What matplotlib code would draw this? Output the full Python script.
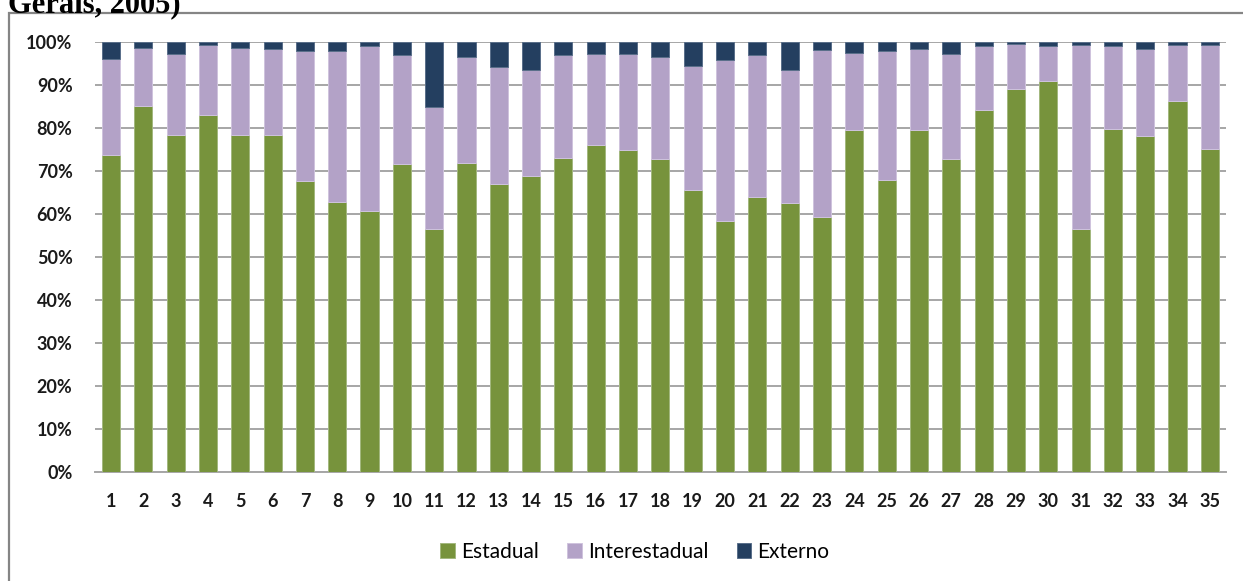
import matplotlib
matplotlib.use("Agg")
import matplotlib.pyplot as plt
from matplotlib.patches import Rectangle
from matplotlib.ticker import FuncFormatter, MultipleLocator

# Share of flows by destination type for each of the 35 regions (percent)
regions = [str(i) for i in range(1, 36)]
estadual = [73.6, 85.2, 78.3, 83.1, 78.3, 78.3, 67.6, 62.8, 60.7, 71.5,
            56.5, 71.8, 67.0, 68.8, 73.0, 76.0, 74.8, 72.7, 65.6, 58.3,
            64.0, 62.5, 59.2, 79.6, 67.9, 79.6, 72.7, 84.1, 89.1, 90.9,
            56.5, 79.8, 78.1, 86.2, 75.1]
# cumulative top of the Interestadual segment (Estadual + Interestadual)
ate_interestadual = [96.0, 98.7, 97.2, 99.3, 98.7, 98.4, 97.8, 97.8, 99.0, 97.0,
                     84.9, 96.6, 94.2, 93.6, 97.0, 97.2, 97.2, 96.6, 94.5, 95.7,
                     97.0, 93.6, 98.1, 97.5, 97.8, 98.4, 97.2, 99.1, 99.6, 99.1,
                     99.3, 99.0, 98.4, 99.3, 99.3]
interestadual = [t - e for t, e in zip(ate_interestadual, estadual)]
externo = [100.0 - t for t in ate_interestadual]

series_names = ["Estadual", "Interestadual", "Externo"]
colors = ["#77933C", "#B3A2C7", "#243F60"]
edges = ["#A3B87F", "#CFC3DD", "#5A6F8A"]

W, H, DPI = 1243, 581, 100
fig = plt.figure(figsize=(W / DPI, H / DPI), dpi=DPI)
fig.patch.set_facecolor("white")

# outer chart frame (runs past the right and bottom edges)
frame = Rectangle((9 / W, -0.1), 1.2, 1 - 13 / H + 0.1, transform=fig.transFigure,
                  fill=False, edgecolor="#858585", linewidth=1.6, zorder=0)
fig.patches.append(frame)

# tail of the caption line continuing from above the chart
fig.text(8 / W, 1 - 12 / H, "Gerais, 2005)", family="Liberation Serif",
         fontweight="bold", fontsize=22, ha="left", va="baseline")

left, right = 94.8 / W, 1226 / W
bottom, top = 1 - 471.7 / H, 1 - 42 / H
ax = fig.add_axes([left, bottom, right - left, top - bottom])

x = list(range(1, 36))
bw = 0.56
ax.bar(x, estadual, bw, color=colors[0], edgecolor=edges[0], linewidth=0.7,
       label=series_names[0], zorder=3)
ax.bar(x, interestadual, bw, bottom=estadual, color=colors[1], edgecolor=edges[1],
       linewidth=0.7, label=series_names[1], zorder=3)
ax.bar(x, externo, bw, bottom=ate_interestadual, color=colors[2], edgecolor=edges[2],
       linewidth=0.7, label=series_names[2], zorder=3)

ax.set_xlim(0.5, 35.5)
ax.set_ylim(0, 100)
ax.yaxis.set_major_locator(MultipleLocator(10))
ax.yaxis.set_major_formatter(FuncFormatter(lambda v, p: f"{int(round(v))}%"))
ax.set_xticks(x)
ax.set_xticklabels(regions)
ax.grid(axis="y", color="#A6A6A6", linewidth=1.4, zorder=0)
ax.set_axisbelow(True)
for s in ["top", "right", "left"]:
    ax.spines[s].set_visible(False)
ax.spines["bottom"].set_color("#A6A6A6")
ax.spines["bottom"].set_linewidth(1.4)
ax.tick_params(axis="both", length=0)
ax.tick_params(axis="y", pad=16)
ax.tick_params(axis="x", pad=15)
for lab in ax.get_xticklabels() + ax.get_yticklabels():
    lab.set_family("Lato")
    lab.set_fontweight("bold")
    lab.set_fontsize(13)
    lab.set_color("#1A1A1A")

leg = fig.legend(loc="center", bbox_to_anchor=(635 / W, 1 - 552 / H), ncol=3,
                 frameon=False, prop={"family": "Lato", "size": 15},
                 handlelength=0.7, handleheight=0.7, handletextpad=0.3,
                 columnspacing=1.35)

fig.savefig("out.png", dpi=DPI, facecolor="white")
